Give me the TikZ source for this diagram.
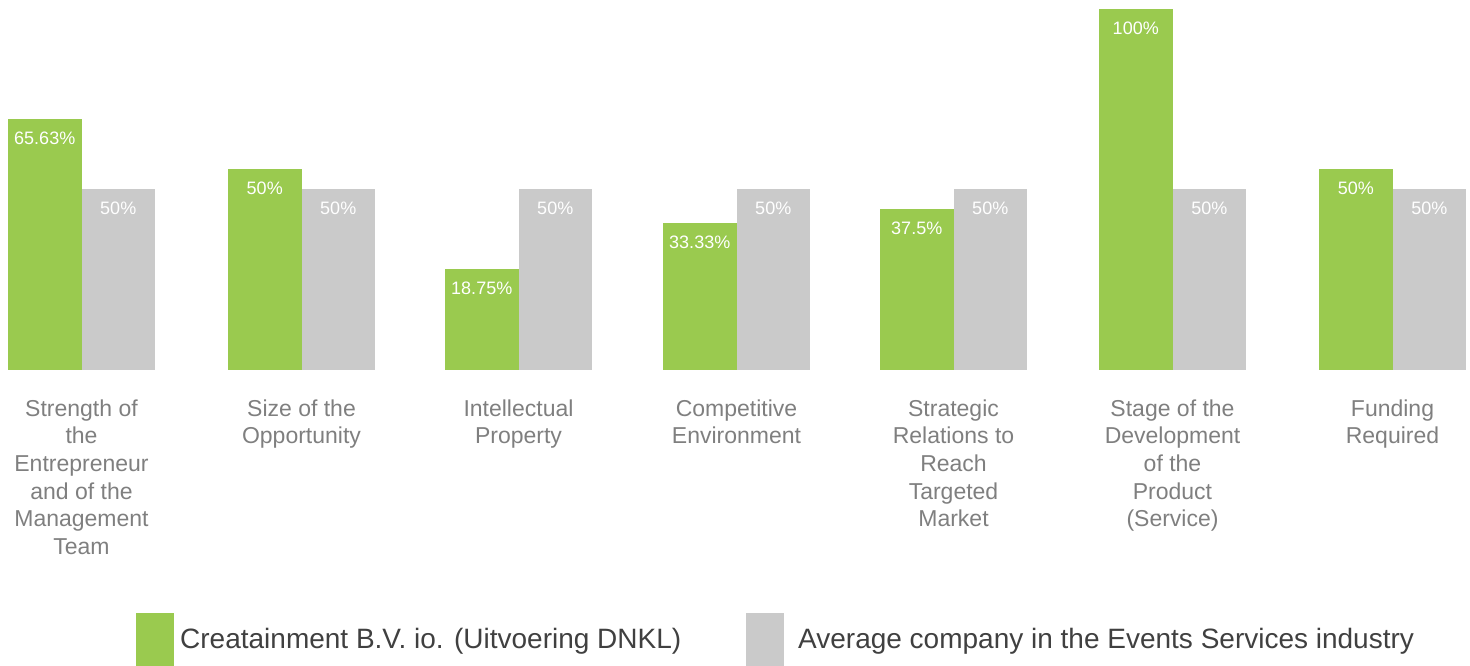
\documentclass[tikz,border=0pt]{standalone}
\usepackage{fontspec}
\setmainfont{Liberation Sans}
\definecolor{barG}{HTML}{9ACA4F}
\definecolor{barA}{HTML}{CACACA}
\definecolor{catT}{HTML}{7F7F7F}
\definecolor{legT}{HTML}{404040}
\begin{document}
\begin{tikzpicture}[x=1pt,y=-1pt,
  valtxt/.style={text=white,inner sep=0pt,font=\fontsize{18}{21}\selectfont},
  cattxt/.style={text=catT,inner sep=0pt,align=center,anchor=north,font=\fontsize{23}{27.6}\selectfont},
  legtxt/.style={text=legT,inner sep=0pt,anchor=base west,font=\fontsize{28}{32}\selectfont},
  gbar/.style={fill=barG},
  abar/.style={fill=barA}]
\useasboundingbox (0,0) rectangle (1470,666);
\foreach \i/\x/\t/\v/\c in {
  1/8/119/65.63\%/{Strength of\\the\\Entrepreneur\\and of the\\Management\\Team},
  2/228/169/50\%/{Size of the\\Opportunity},
  3/445/269/18.75\%/{Intellectual\\Property},
  4/663/223/33.33\%/{Competitive\\Environment},
  5/880/209/37.5\%/{Strategic\\Relations to\\Reach\\Targeted\\Market},
  6/1099/9/100\%/{Stage of the\\Development\\of the\\Product\\(Service)},
  7/1319/169/50\%/{Funding\\Required}}{
  \fill[gbar] (\x,370) rectangle ({\x+73.5},\t);
  \fill[abar] ({\x+73.5},370) rectangle ({\x+147},189);
  \node[valtxt] (vg\i) at ({\x+36.75},{\t+19}) {\v};
  \node[valtxt] (va\i) at ({\x+110.25},208) {50\%};
  \node[cattxt] (cat\i) at ({\x+73.5},399.5) {\c};
}
\fill[gbar] (136,613) rectangle (174,666);
\node[legtxt] (leg1) at (180,648) {Creatainment B.V. io. (Uitvoering DNKL)};
\fill[abar] (746,613) rectangle (784,666);
\node[legtxt] (leg2) at (798,648) {Average company in the Events Services industry};
\end{tikzpicture}
\end{document}
